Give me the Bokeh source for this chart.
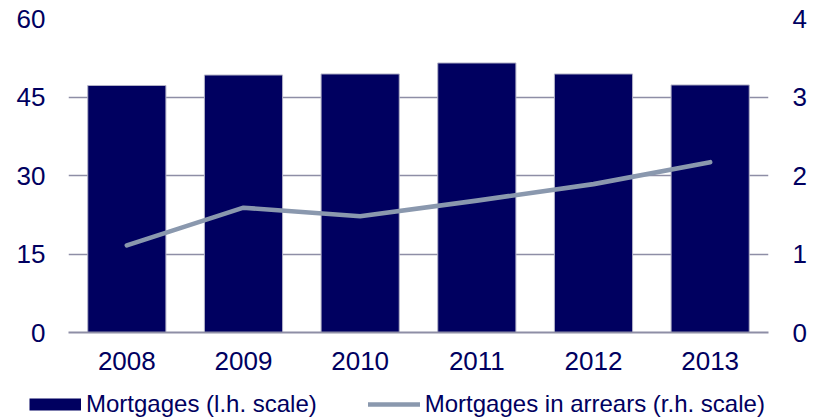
from bokeh.plotting import figure
from bokeh.models import (FactorRange, Range1d, LinearAxis, FixedTicker,
                          Legend, LegendItem, ColumnDataSource)
from bokeh.embed import file_html
from bokeh.resources import INLINE

years = ["2008", "2009", "2010", "2011", "2012", "2013"]
mortgages = [47.2, 49.2, 49.4, 51.5, 49.4, 47.3]
arrears = [1.11, 1.59, 1.48, 1.68, 1.89, 2.17]
left_ticks = [0, 15, 30, 45, 60]
right_ticks = [0, 1, 2, 3, 4]
labels = ["Mortgages (l.h. scale)", "Mortgages in arrears (r.h. scale)"]

NAVY = "#000060"
LINE = "#8A98AE"
GRID = "#8E8EA6"
FONT = "Liberation Sans"

src = ColumnDataSource(dict(year=years, mortgages=mortgages, arrears=arrears))

p = figure(width=816, height=388, x_range=FactorRange(*years, range_padding=0),
           y_range=Range1d(0, 60), output_backend="svg", toolbar_location=None,
           min_border_left=68, min_border_right=48, min_border_top=18,
           min_border_bottom=56)
p.extra_y_ranges = {"right": Range1d(0, 4)}
p.outline_line_color = None

p.vbar(x="year", top="mortgages", width=0.67, source=src,
       fill_color=NAVY, line_color="#B4B4C8", line_width=1)
p.line(x="year", y="arrears", source=src, y_range_name="right",
       line_color=LINE, line_width=4.6, line_cap="round", line_join="round")

p.xgrid.visible = False
p.ygrid.ticker = FixedTicker(ticks=left_ticks)
p.ygrid.grid_line_color = GRID
p.ygrid.grid_line_width = 1.4

ya = p.yaxis[0]
ya.ticker = FixedTicker(ticks=left_ticks)
ra = LinearAxis(y_range_name="right", ticker=FixedTicker(ticks=right_ticks))
p.add_layout(ra, "right")
for ax, so in ((ya, 23), (ra, 24)):
    ax.axis_line_color = None
    ax.major_tick_line_color = None
    ax.minor_tick_line_color = None
    ax.major_tick_out = 0
    ax.major_tick_in = 0
    ax.major_label_standoff = so
    ax.major_label_text_font = FONT
    ax.major_label_text_font_size = "26px"
    ax.major_label_text_color = NAVY

xa = p.xaxis[0]
xa.axis_line_color = GRID
xa.axis_line_width = 2.2
xa.major_tick_line_color = None
xa.major_tick_out = 0
xa.major_tick_in = 0
xa.major_label_standoff = 19
xa.major_label_text_font = FONT
xa.major_label_text_font_size = "26px"
xa.major_label_text_color = NAVY

# legend strip below the chart (proxy renderers lie outside its visible ranges)
lg = figure(width=816, height=30, x_range=Range1d(0, 1), y_range=Range1d(0, 1),
            x_axis_type=None, y_axis_type=None, output_backend="svg",
            toolbar_location=None, min_border=0, min_border_left=0,
            min_border_right=0, min_border_top=0, min_border_bottom=0)
lg.outline_line_color = None
lg.xgrid.visible = False
lg.ygrid.visible = False
sw_bar = lg.line(x="arrears", y="mortgages", source=src, line_color=NAVY,
                 line_width=12, line_cap="butt")
sw_line = lg.line(x="arrears", y="mortgages", source=src, line_color=LINE,
                  line_width=4.6, line_cap="round")

legend = Legend(items=[LegendItem(label=labels[0], renderers=[sw_bar]),
                       LegendItem(label=labels[1], renderers=[sw_line])],
                orientation="horizontal", location=(29, 0),
                glyph_width=52, glyph_height=26, label_height=26,
                label_standoff=5, spacing=51, padding=0, margin=0,
                border_line_color=None, background_fill_alpha=0,
                label_text_font=FONT, label_text_font_size="24px",
                label_text_color=NAVY)
lg.add_layout(legend)

open("out.html", "w").write(file_html([p, lg], INLINE))
